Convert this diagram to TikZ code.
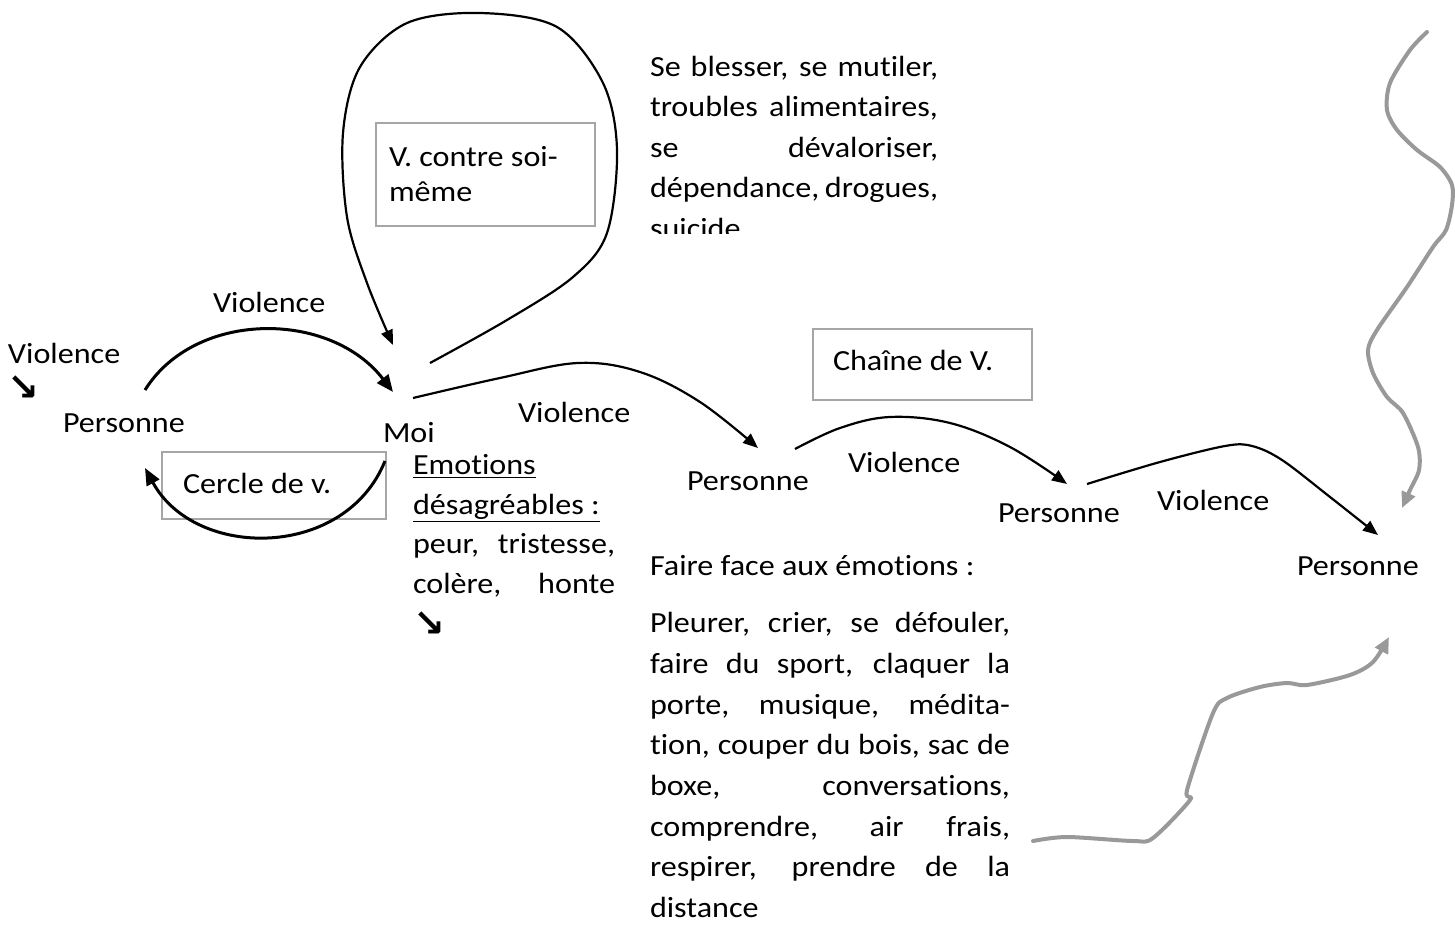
\documentclass[tikz,border=0pt]{standalone}
\usepackage{fontspec}
\setmainfont{Carlito}[FakeStretch=1.1, Ligatures=NoCommon]
\newfontfamily\symfont{DejaVu Sans}
\usetikzlibrary{arrows.meta}
\definecolor{boxgray}{HTML}{A6A6A6}
\definecolor{wavegray}{HTML}{999999}
\begin{document}
\begin{tikzpicture}[x=0.5pt,y=-0.5pt,
  lbl/.style={anchor=base west, inner sep=0pt, outer sep=0pt, font=\fontsize{14.6}{17}\selectfont},
  sym/.style={anchor=base west, inner sep=0pt, outer sep=0pt, font=\symfont\bfseries\fontsize{19}{21}\selectfont},
  frame/.style={draw=boxgray, line width=0.8pt},
  bigarrow/.style={line width=1.5pt, -{Triangle[length=8.5pt,width=7pt]}},
  thinarrow/.style={line width=1.1pt, -{Triangle[length=7.5pt,width=6pt]}},
  wavy/.style={draw=wavegray, line width=2pt, line cap=round, line join=round, -{Triangle[length=8pt,width=7pt]}}
]
\useasboundingbox (0,0) rectangle (1455,925);

% boxes
\draw[frame] (376,123) rectangle (595,226);
\draw[frame] (162,452) rectangle (386,519);
\draw[frame] (813,329) rectangle (1032,400);

% labels
\node[lbl] (vtl) at (8,363) {Violence};
\node[sym] (arrtl) at (7,400) {↘};
\node[lbl] (p1) at (63,432) {Personne};
\node[lbl] (vtop) at (213,312) {Violence};
\begin{scope}
\clip (370,400) rectangle (460,443);
\node[lbl] (moi) at (383,442) {Moi};
\end{scope}
\node[lbl] (cercle) at (183,493) {Cercle de v.};
\node[lbl] (vcs1) at (389,167) {V. contre soi-};
\node[lbl] (vcs2) at (389,202) {même};
\node[lbl] (chaine) at (833,370) {Chaîne de V.};
\node[lbl] (v2) at (518,422) {Violence};
\node[lbl] (p2) at (687,490) {Personne};
\node[lbl] (v3) at (848,472) {Violence};
\node[lbl] (p3) at (998,522) {Personne};
\node[lbl] (v4) at (1157,510) {Violence};
\node[lbl] (p4) at (1297,575) {Personne};

% self-harm text (clipped)
\begin{scope}
\clip (640,0) rectangle (970,234);
\node[lbl] (s1) at (650,77) {\makebox[144pt][s]{Se blesser, se mutiler,}};
\node[lbl] (s2) at (650,117) {\makebox[144pt][s]{troubles alimentaires,}};
\node[lbl] (s3) at (650,158) {\makebox[144pt][s]{se dévaloriser,}};
\node[lbl] (s4) at (650,198) {\makebox[144pt][s]{dépendance, drogues,}};
\node[lbl] (s5) at (650,239) {suicide};
\end{scope}

% emotions
\node[lbl] (e1) at (413,474) {\underline{Emotions}};
\node[lbl] (e2) at (413,514) {\underline{désagréables :}};
\node[lbl] (e3) at (413,553) {\makebox[101pt][s]{peur, tristesse,}};
\node[lbl] (e4) at (413,593) {\makebox[101pt][s]{colère, honte}};
\node[sym] (e5) at (413,636) {↘};

% coping
\node[lbl] (f0) at (650,575) {Faire face aux émotions :};
\node[lbl] (f1) at (650,632) {\makebox[180pt][s]{Pleurer, crier, se défouler,}};
\node[lbl] (f2) at (650,673) {\makebox[180pt][s]{faire du sport, claquer la}};
\node[lbl] (f3) at (650,714) {\makebox[180pt][s]{porte, musique, médita-}};
\node[lbl] (f4) at (650,754) {\makebox[180pt][s]{tion, couper du bois, sac de}};
\node[lbl] (f5) at (650,795) {\makebox[180pt][s]{boxe, conversations,}};
\node[lbl] (f6) at (650,836) {\makebox[180pt][s]{comprendre, air frais,}};
\node[lbl] (f7) at (650,876) {\makebox[180pt][s]{respirer, prendre de la}};
\node[lbl] (f8) at (650,917) {distance};

% connector end points
\coordinate (a1s) at (145,390);
\coordinate (a1e) at (393,392);
\coordinate (a2s) at (385,461);
\coordinate (a2e) at (145,468);
\coordinate (lps) at (430,363);
\coordinate (lpe) at (393,345);
\coordinate (m2s) at (413,398);
\coordinate (m2e) at (758,448);
\coordinate (p23s) at (795,449);
\coordinate (p23e) at (1067,484);
\coordinate (p34s) at (1087,484);
\coordinate (p34e) at (1378,535);
\coordinate (w1s) at (1427,32);
\coordinate (w1e) at (1402,508);
\coordinate (w2s) at (1033,841);
\coordinate (w2e) at (1389,637);

% black arrows
\draw[bigarrow] (a1s) .. controls (195,310) and (330,310) .. (a1e);
\draw[bigarrow] (a2s) .. controls (345,560) and (195,560) .. (a2e);
\draw[thinarrow] plot[smooth, tension=0.55] coordinates {(lps) (507,320) (573,277) (607,233) (617,150) (603,83) (557,27) (480,13) (407,23) (360,67) (343,133) (347,217) (367,283) (lpe)};
\draw[thinarrow] plot[smooth, tension=0.6] coordinates {(m2s) (500,378) (578,363) (640,372) (700,402) (m2e)};
\draw[thinarrow] plot[smooth, tension=0.6] coordinates {(p23s) (840,428) (890,417) (950,423) (1010,447) (p23e)};
\draw[thinarrow] plot[smooth, tension=0.55] coordinates {(p34s) (1160,462) (1225,446) (1252,446) (1282,460) (1330,497) (p34e)};

% grey wavy arrows
\draw[wavy] plot[smooth, tension=0.5] coordinates {(w1s) (1410,50) (1390,83) (1387,110) (1397,130) (1417,150) (1440,167) (1452,185) (1452,205) (1446,230) (1433,247) (1407,287) (1377,330) (1368,350) (1373,373) (1387,397) (1403,413) (1418,447) (1419,470) (1410,490) (w1e)};
\draw[wavy] plot[smooth, tension=0.5] coordinates {(w2s) (1067,837) (1133,841) (1153,838) (1190,800) (1187,790) (1213,713) (1227,698) (1260,687) (1287,683) (1307,685) (1350,675) (1373,662) (w2e)};
\end{tikzpicture}
\end{document}
